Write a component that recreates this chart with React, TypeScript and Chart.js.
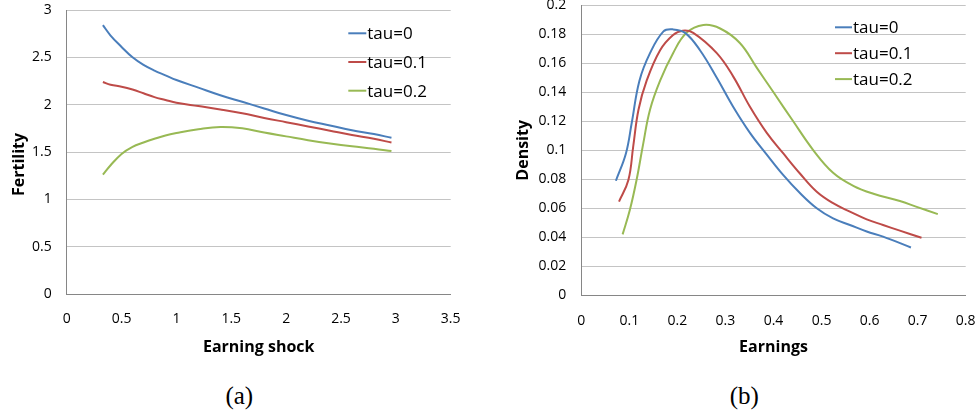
import React, { useEffect, useRef } from 'react';
import { Chart, registerables } from 'chart.js';

Chart.register(...registerables);
Chart.defaults.font.family = "'Open Sans', sans-serif";

// ---------- Data: (a) Fertility vs earning shock ----------
const shockX = [0.33, 0.4, 0.5, 0.6, 0.7, 0.8, 0.9, 1.0, 1.2, 1.4, 1.6, 1.8, 2.0, 2.2, 2.4, 2.6, 2.8, 2.96];
const fertTau0 = [2.84, 2.73, 2.61, 2.5, 2.42, 2.36, 2.31, 2.26, 2.18, 2.1, 2.03, 1.96, 1.89, 1.83, 1.78, 1.73, 1.69, 1.65];
const fertTau01 = [2.24, 2.21, 2.19, 2.16, 2.12, 2.08, 2.05, 2.02, 1.985, 1.95, 1.91, 1.86, 1.815, 1.77, 1.725, 1.68, 1.64, 1.6];
const fertTau02 = [1.26, 1.36, 1.48, 1.555, 1.6, 1.64, 1.675, 1.7, 1.74, 1.765, 1.75, 1.705, 1.665, 1.625, 1.59, 1.56, 1.535, 1.51];

// ---------- Data: (b) Density vs earnings ----------
const earnX0 = [0.072, 0.093, 0.105, 0.121, 0.143, 0.171, 0.19, 0.216, 0.247, 0.282, 0.316, 0.351, 0.386, 0.42, 0.455, 0.49, 0.524, 0.559, 0.594, 0.628, 0.686];
const dens0 = [0.079, 0.098, 0.119, 0.148, 0.167, 0.182, 0.1834, 0.181, 0.169, 0.15, 0.13, 0.112, 0.097, 0.083, 0.0705, 0.06, 0.053, 0.0485, 0.044, 0.0405, 0.033];
const earnX01 = [0.0785, 0.098, 0.108, 0.119, 0.136, 0.164, 0.191, 0.211, 0.233, 0.282, 0.316, 0.351, 0.386, 0.42, 0.455, 0.49, 0.524, 0.559, 0.594, 0.628, 0.663, 0.708];
const dens01 = [0.0646, 0.0795, 0.1025, 0.128, 0.148, 0.169, 0.1795, 0.1825, 0.181, 0.167, 0.151, 0.13, 0.112, 0.098, 0.084, 0.0714, 0.0635, 0.0577, 0.0524, 0.0485, 0.0446, 0.0397];
const earnX02 = [0.086, 0.101, 0.115, 0.129, 0.143, 0.164, 0.191, 0.219, 0.254, 0.289, 0.33, 0.365, 0.4, 0.441, 0.483, 0.524, 0.566, 0.608, 0.663, 0.698, 0.742];
const dens02 = [0.042, 0.0588, 0.0795, 0.1048, 0.128, 0.148, 0.167, 0.181, 0.1864, 0.184, 0.174, 0.157, 0.14, 0.12, 0.1, 0.0845, 0.0755, 0.07, 0.065, 0.061, 0.056];

// ---------- Labels ----------
const seriesNames = ['tau=0', 'tau=0.1', 'tau=0.2'];
const seriesColors = ['#4A7EBB', '#BE4B48', '#98B954'];
const fertXTicks = ['0', '0.5', '1', '1.5', '2', '2.5', '3', '3.5'];
const fertYTicks = ['0', '0.5', '1', '1.5', '2', '2.5', '3'];
const densXTicks = ['0', '0.1', '0.2', '0.3', '0.4', '0.5', '0.6', '0.7', '0.8'];
const densYTicks = ['0', '0.02', '0.04', '0.06', '0.08', '0.1', '0.12', '0.14', '0.16', '0.18', '0.2'];

const GRID = '#C4C4C4';
const AXIS = '#868686';

const pick = (labels: string[]) => (v: any) =>
  labels.find((l) => Math.abs(parseFloat(l) - Number(v)) < 1e-9) ?? '';

const zip = (xs: number[], ys: number[]) => xs.map((x, i) => ({ x, y: ys[i] }));

const insideLegend = {
  id: 'insideLegend',
  afterDraw(chart: any, _args: any, opts: any) {
    const { ctx, chartArea } = chart;
    ctx.save();
    chart.data.datasets.forEach((ds: any, i: number) => {
      const x = chartArea.right - opts.fromRight;
      const y = chartArea.top + opts.firstY + i * opts.spacing;
      ctx.strokeStyle = ds.borderColor;
      ctx.lineWidth = 2;
      ctx.beginPath();
      ctx.moveTo(x, y);
      ctx.lineTo(x + opts.lineLen, y);
      ctx.stroke();
      ctx.fillStyle = '#000';
      ctx.font = "17px 'Open Sans'";
      ctx.textBaseline = 'middle';
      ctx.textAlign = 'left';
      ctx.fillText(ds.label, x + opts.lineLen + 1, y + 1);
    });
    ctx.restore();
  },
};

type Spec = {
  left: number;
  width: number;
  height: number;
  padTop: number;
  padRight: number;
  yWidth: number;
  xHeight: number;
  xMax: number;
  xStep: number;
  yMax: number;
  yStep: number;
  xTicks: string[];
  yTicks: string[];
  xTitle: string;
  yTitle: string;
  yTitlePad: number;
  legend: any;
  datasets: { x: number[]; y: number[] }[];
};

function LineChart({ spec }: { spec: Spec }) {
  const ref = useRef<HTMLCanvasElement | null>(null);
  useEffect(() => {
    if (!ref.current) return;
    const chart = new Chart(ref.current, {
      type: 'line',
      data: {
        datasets: spec.datasets.map((d, i) => ({
          label: seriesNames[i],
          data: zip(d.x, d.y),
          borderColor: seriesColors[i],
          backgroundColor: seriesColors[i],
          borderWidth: 2,
          pointRadius: 0,
          fill: false,
          tension: 0.4,
        })),
      },
      options: {
        responsive: false,
        animation: false,
        layout: { padding: { left: 0, top: spec.padTop, right: spec.padRight, bottom: 0 } },
        plugins: {
          legend: { display: false },
          tooltip: { enabled: false },
          insideLegend: spec.legend,
        } as any,
        scales: {
          x: {
            type: 'linear',
            min: 0,
            max: spec.xMax,
            ticks: {
              stepSize: spec.xStep,
              padding: 17,
              color: '#000',
              font: { size: 14 },
              autoSkip: false,
              maxRotation: 0,
              callback: pick(spec.xTicks),
            },
            grid: { display: false, drawTicks: false },
            border: { display: true, color: AXIS, width: 1 },
            title: {
              display: true,
              text: spec.xTitle,
              color: '#000',
              font: { size: 16, weight: 'bold' },
              padding: { top: 0, bottom: 13 },
            },
            afterFit(s: any) {
              s.height = spec.xHeight;
              s.paddingLeft = 0;
              s.paddingRight = 0;
            },
          },
          y: {
            type: 'linear',
            min: 0,
            max: spec.yMax,
            ticks: {
              stepSize: spec.yStep,
              padding: 15,
              color: '#000',
              font: { size: 14 },
              autoSkip: false,
              callback: pick(spec.yTicks),
            },
            grid: {
              drawTicks: false,
              color: (c: any) => (c.tick && c.tick.value === 0 ? AXIS : GRID),
              lineWidth: 1,
            },
            border: { display: true, color: AXIS, width: 1 },
            title: {
              display: true,
              text: spec.yTitle,
              color: '#000',
              font: { size: 16, weight: 'bold' },
              padding: { top: spec.yTitlePad, bottom: 0 },
            },
            afterFit(s: any) {
              s.width = spec.yWidth;
              s.paddingTop = 0;
              s.paddingBottom = 0;
            },
          },
        } as any,
      },
      plugins: [insideLegend],
    });
    return () => chart.destroy();
  }, [spec]);
  return (
    <div style={{ position: 'absolute', left: spec.left, top: 0, width: spec.width, height: spec.height }}>
      <canvas ref={ref} width={spec.width} height={spec.height} style={{ display: 'block' }} />
    </div>
  );
}

const specA: Spec = {
  left: 0,
  width: 480,
  height: 370,
  padTop: 10,
  padRight: 29.3,
  yWidth: 66.7,
  xHeight: 76,
  xMax: 3.5,
  xStep: 0.5,
  yMax: 3,
  yStep: 0.5,
  xTicks: fertXTicks,
  yTicks: fertYTicks,
  xTitle: 'Earning shock',
  yTitle: 'Fertility      ',
  yTitlePad: 9.5,
  legend: { fromRight: 102.4, firstY: 23.3, spacing: 28.7, lineLen: 18 },
  datasets: [
    { x: shockX, y: fertTau0 },
    { x: shockX, y: fertTau01 },
    { x: shockX, y: fertTau02 },
  ],
};

const specB: Spec = {
  left: 500,
  width: 477,
  height: 370,
  padTop: 5.3,
  padRight: 11.3,
  yWidth: 81.3,
  xHeight: 74.7,
  xMax: 0.8,
  xStep: 0.1,
  yMax: 0.2,
  yStep: 0.02,
  xTicks: densXTicks,
  yTicks: densYTicks,
  xTitle: 'Earnings',
  yTitle: 'Density',
  yTitlePad: 13.8,
  legend: { fromRight: 130.7, firstY: 22, spacing: 25.9, lineLen: 17 },
  datasets: [
    { x: earnX0, y: dens0 },
    { x: earnX01, y: dens01 },
    { x: earnX02, y: dens02 },
  ],
};

const captionStyle = (cx: number): React.CSSProperties => ({
  position: 'absolute',
  left: cx - 50,
  top: 383,
  width: 100,
  textAlign: 'center',
  fontFamily: "'Liberation Serif', 'Times New Roman', serif",
  fontSize: 25,
  lineHeight: '25px',
  color: '#000',
});

export default function App() {
  return (
    <div style={{ position: 'absolute', left: 0, top: 0, width: 977, height: 414, background: '#fff', overflow: 'hidden' }}>
      <LineChart spec={specA} />
      <LineChart spec={specB} />
      <div style={captionStyle(239.3)}>(a)</div>
      <div style={captionStyle(744.3)}>(b)</div>
    </div>
  );
}
